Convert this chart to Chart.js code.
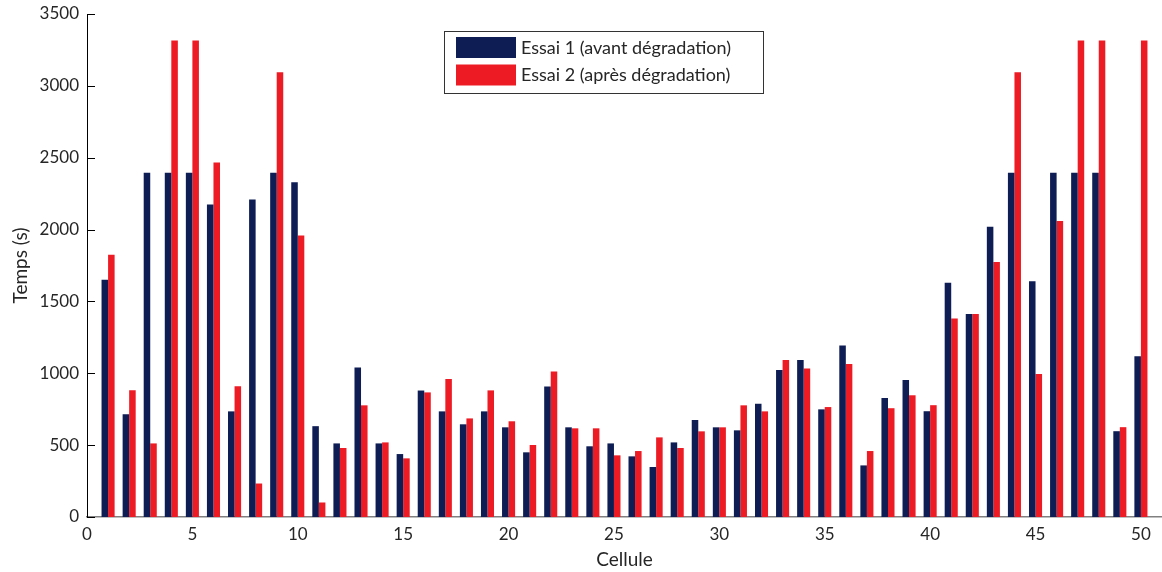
<!DOCTYPE html>
<html>
<head>
<meta charset="utf-8">
<script src="https://cdn.jsdelivr.net/npm/chart.js@4.4.1/dist/chart.umd.min.js"></script>
<style>
  html, body { margin: 0; padding: 0; background: #fff; }
  canvas { display: block; }
</style>
</head>
<body>
<canvas id="barChart" width="1162" height="572"></canvas>
<script>
// Temps mesuré par cellule, deux essais
const cellules = [];
for (let i = 0; i <= 51; i++) cellules.push(String(i));

const essai1 = [1650, 715, 2395, 2395, 2395, 2175, 735, 2210, 2395, 2330,
                632, 512, 1040, 512, 438, 880, 735, 645, 735, 624,
                450, 908, 624, 492, 512, 422, 348, 519, 675, 624,
                603, 788, 1023, 1092, 749, 1194, 359, 828, 953, 736,
                1630, 1413, 2019, 2395, 1640, 2395, 2395, 2395, 597, 1118];

const essai2 = [1825, 882, 512, 3315, 3315, 2467, 910, 233, 3094, 1958,
                101, 480, 777, 519, 408, 867, 960, 686, 881, 666,
                501, 1013, 617, 617, 429, 459, 554, 480, 596, 624,
                777, 735, 1092, 1034, 765, 1064, 459, 757, 847, 778,
                1382, 1413, 1774, 3094, 995, 2059, 3315, 3315, 625, 3315];

const xTicks = [0, 5, 10, 15, 20, 25, 30, 35, 40, 45, 50];
const yTicks = [0, 500, 1000, 1500, 2000, 2500, 3000, 3500];

const FONT = 'Lato, "Open Sans", sans-serif';
const TEXT = '#262626';

// pas de barre aux positions 0 et 51 (bords de l'axe)
const pad = arr => [null, ...arr, null];

// petites graduations vers l'intérieur sur l'axe Y
const innerTicks = {
    id: 'innerTicks',
    afterDatasetsDraw(chart) {
        const ctx = chart.ctx;
        const y = chart.scales.y;
        const left = chart.chartArea.left;
        ctx.save();
        ctx.strokeStyle = '#000';
        ctx.lineWidth = 1;
        yTicks.forEach(v => {
            const py = Math.round(y.getPixelForValue(v)) + 0.5;
            ctx.beginPath();
            ctx.moveTo(left, py);
            ctx.lineTo(left + 8, py);
            ctx.stroke();
        });
        ctx.restore();
    }
};

// légende encadrée en haut du graphique
const boxLegend = {
    id: 'boxLegend',
    afterDraw(chart) {
        const ctx = chart.ctx;
        const x0 = 444.5, y0 = 31.5, w = 319, h = 62;
        ctx.save();
        ctx.fillStyle = '#fff';
        ctx.fillRect(x0, y0, w, h);
        ctx.strokeStyle = '#333';
        ctx.lineWidth = 1;
        ctx.strokeRect(x0, y0, w, h);
        ctx.font = '18px ' + FONT;
        ctx.textBaseline = 'middle';
        chart.data.datasets.forEach((ds, i) => {
            const sy = 37 + i * 27.5;
            ctx.fillStyle = ds.backgroundColor;
            ctx.fillRect(456, sy, 60, 21);
            ctx.fillStyle = TEXT;
            ctx.fillText(ds.label, 521, sy + 11);
        });
        ctx.restore();
    }
};

const ctx = document.getElementById('barChart').getContext('2d');
new Chart(ctx, {
    type: 'bar',
    data: {
        labels: cellules,
        datasets: [{
            label: 'Essai 1 (avant dégradation)',
            data: pad(essai1),
            backgroundColor: '#0e1d54',
            categoryPercentage: 0.62,
            barPercentage: 1.0,
        }, {
            label: 'Essai 2 (après dégradation)',
            data: pad(essai2),
            backgroundColor: '#ed1c24',
            categoryPercentage: 0.62,
            barPercentage: 1.0,
        }]
    },
    options: {
        responsive: false,
        animation: false,
        layout: { padding: { top: 14, right: 0, left: 0, bottom: 0 } },
        plugins: {
            legend: { display: false },
            tooltip: { enabled: false },
        },
        scales: {
            x: {
                offset: false,
                grid: { display: false, drawTicks: false },
                border: { color: '#808080', width: 1.5 },
                ticks: {
                    autoSkip: false,
                    maxRotation: 0,
                    padding: 7,
                    color: TEXT,
                    font: { family: FONT, size: 17 },
                    callback: (v, i) => xTicks.includes(i) ? String(i) : null,
                },
                title: {
                    display: true,
                    text: 'Cellule',
                    color: TEXT,
                    font: { family: FONT, size: 19 },
                    padding: { top: 0, bottom: 1 },
                },
                afterFit: s => { s.height = 55; },
            },
            y: {
                min: 0,
                max: 3500,
                grid: { display: false, drawTicks: false },
                border: { color: '#000', width: 1 },
                ticks: {
                    stepSize: 500,
                    padding: 8,
                    color: TEXT,
                    font: { family: FONT, size: 17 },
                    callback: v => String(v),
                },
                title: {
                    display: true,
                    text: 'Temps (s)',
                    color: TEXT,
                    font: { family: FONT, size: 19 },
                    padding: { top: 9, bottom: 0 },
                },
                afterFit: s => {
                    s.width = 87;
                    s.paddingTop = 0;
                    s.paddingBottom = 0;
                },
            }
        }
    },
    plugins: [innerTicks, boxLegend]
});
</script>
</body>
</html>
